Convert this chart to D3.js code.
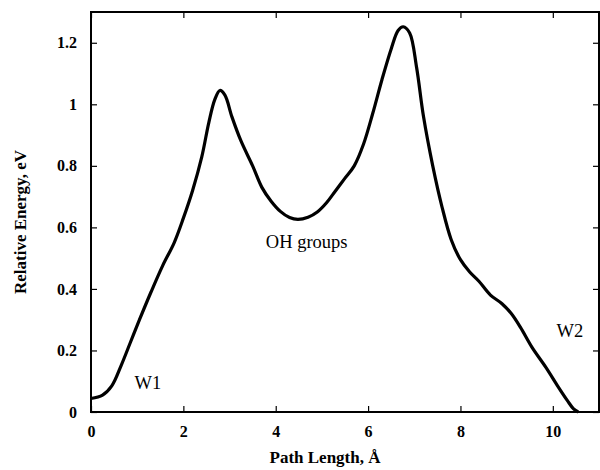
<!DOCTYPE html>
<html>
<head>
<meta charset="utf-8">
<script src="https://cdn.jsdelivr.net/npm/d3@7"></script>
<style>
  body { margin: 0; background: #fff; }
  text { font-family: "Liberation Serif", "DejaVu Serif", serif; }
</style>
</head>
<body>
<div id="chart"></div>
<script>
// path length (Å) and relative energy (eV)
const pathLength = [0, 0.25, 0.45, 0.65, 0.85, 1.05, 1.3, 1.55, 1.8, 2.0, 2.2, 2.4, 2.55, 2.68, 2.79, 2.9, 3.05, 3.25, 3.5, 3.7, 3.9, 4.1, 4.3, 4.48, 4.7, 4.9, 5.1, 5.3, 5.5, 5.7, 5.9, 6.1, 6.3, 6.5, 6.65, 6.76, 6.9, 7.05, 7.2, 7.4, 7.6, 7.8, 8.0, 8.2, 8.4, 8.65, 8.9, 9.1, 9.3, 9.55, 9.85, 10.12, 10.32, 10.45, 10.55];
const energy = [0.044, 0.055, 0.085, 0.15, 0.225, 0.3, 0.39, 0.475, 0.55, 0.63, 0.72, 0.83, 0.94, 1.015, 1.045, 1.03, 0.96, 0.88, 0.8, 0.73, 0.685, 0.652, 0.632, 0.626, 0.633, 0.65, 0.68, 0.72, 0.76, 0.8, 0.87, 0.97, 1.08, 1.18, 1.24, 1.252, 1.232, 1.12, 0.96, 0.8, 0.667, 0.56, 0.495, 0.455, 0.425, 0.38, 0.352, 0.32, 0.275, 0.21, 0.145, 0.081, 0.036, 0.01, 0.0];

const xTicks = [0, 2, 4, 6, 8, 10];
const yTicks = [0, 0.2, 0.4, 0.6, 0.8, 1, 1.2];

const notes = [
  {text: "W1", x: 1.23, y: 0.075},
  {text: "OH groups", x: 4.67, y: 0.532},
  {text: "W2", x: 10.37, y: 0.243}
];

const margin = {top: 12, right: 1, bottom: 58, left: 91},
  width = 600 - margin.left - margin.right,
  height = 470 - margin.top - margin.bottom;

const svg = d3.select("#chart")
  .append("svg")
  .attr("width", 600)
  .attr("height", 470)
  .append("g")
  .attr("transform", `translate(${margin.left}, ${margin.top})`);

const x = d3.scaleLinear().domain([0, 11]).range([0, width]);
const y = d3.scaleLinear().domain([0, 1.3]).range([height, 0]);

// ticks point inward on all four sides
function styleAxis(g, labels) {
  g.select(".domain").remove();
  g.selectAll(".tick line").attr("stroke", "#000").attr("stroke-width", 1.2);
  g.selectAll(".tick text")
    .style("font-size", "16px")
    .style("font-weight", "bold")
    .attr("fill", "#000");
  if (!labels) g.selectAll(".tick text").remove();
}

svg.append("g")
  .attr("transform", `translate(0, ${height})`)
  .call(d3.axisBottom(x).tickValues(xTicks).tickFormat(d3.format("d")).tickSizeInner(-6).tickPadding(14))
  .call(g => styleAxis(g, true));

svg.append("g")
  .call(d3.axisTop(x).tickValues(xTicks).tickSizeInner(-6))
  .call(g => styleAxis(g, false));

svg.append("g")
  .call(d3.axisLeft(y).tickValues(yTicks).tickFormat(d => d).tickSizeInner(-6).tickPadding(14))
  .call(g => styleAxis(g, true));

svg.append("g")
  .attr("transform", `translate(${width}, 0)`)
  .call(d3.axisRight(y).tickValues(yTicks).tickSizeInner(-6))
  .call(g => styleAxis(g, false));

svg.append("rect")
  .attr("width", width)
  .attr("height", height)
  .attr("fill", "none")
  .attr("stroke", "#000")
  .attr("stroke-width", 2);

const line = d3.line()
  .x(d => x(d[0]))
  .y(d => y(d[1]))
  .curve(d3.curveCatmullRom.alpha(0.5));

svg.append("path")
  .datum(d3.zip(pathLength, energy))
  .attr("d", line)
  .attr("fill", "none")
  .attr("stroke", "#000")
  .attr("stroke-width", 3.2)
  .attr("stroke-linejoin", "round");

svg.selectAll(".note")
  .data(notes)
  .join("text")
  .attr("class", "note")
  .attr("x", d => x(d.x))
  .attr("y", d => y(d.y))
  .attr("text-anchor", "middle")
  .style("font-size", "18.5px")
  .text(d => d.text);

svg.append("text")
  .attr("x", width / 2 - 20)
  .attr("y", height + 51)
  .attr("text-anchor", "middle")
  .style("font-size", "17px")
  .style("font-weight", "bold")
  .text("Path Length, Å");

svg.append("text")
  .attr("transform", `translate(${-65}, ${210}) rotate(-90)`)
  .attr("text-anchor", "middle")
  .style("font-size", "17px")
  .style("font-weight", "bold")
  .text("Relative Energy, eV");
</script>
</body>
</html>
